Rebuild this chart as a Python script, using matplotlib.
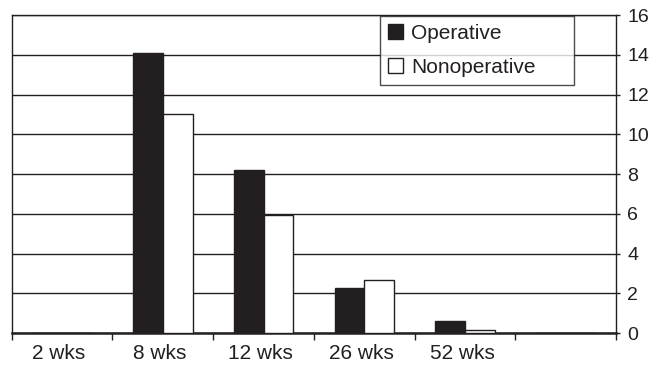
import matplotlib.pyplot as plt
import numpy as np

categories = ['2 wks', '8 wks', '12 wks', '26 wks', '52 wks', '']
operative = [0, 14.1, 8.2, 2.25, 0.6, 0]
nonoperative = [0, 11.05, 5.95, 2.67, 0.15, 0]

plt.rcParams['font.family'] = ['Liberation Sans', 'DejaVu Sans']
dark = '#231f20'

fig = plt.figure(figsize=(6.54, 3.67), dpi=100)
ax = fig.add_axes([0.018, 0.0926, 0.924, 0.866])

x = np.arange(len(categories))
w = 0.295
ax.bar(x - w / 2, operative, w, color=dark, edgecolor=dark, linewidth=1.0,
       label='Operative', zorder=3)
ax.bar(x + w / 2, nonoperative, w, color='white', edgecolor=dark, linewidth=1.0,
       label='Nonoperative', zorder=3)

ax.set_xlim(-0.5, len(categories) - 0.5)
ax.set_ylim(0, 16)

# y axis on the right
ax.yaxis.tick_right()
ax.set_yticks(range(0, 17, 2))
ax.yaxis.grid(True, color=dark, linewidth=1.0, zorder=0)
ax.set_axisbelow(True)
ax.tick_params(axis='y', direction='out', length=3, width=1, pad=5,
               labelsize=14, colors=dark)

# x ticks at category boundaries, labels at centres
ax.set_xticks(np.arange(-0.5, len(categories), 1.0))
ax.set_xticklabels([])
ax.set_xticks(x - 0.03, minor=True)
ax.set_xticklabels(categories, minor=True)
ax.tick_params(axis='x', which='major', direction='out', length=5, width=1, colors=dark)
ax.tick_params(axis='x', which='minor', length=0, pad=8, labelsize=15, colors=dark)

for s in ax.spines.values():
    s.set_color(dark)
    s.set_linewidth(1.0)
ax.spines['bottom'].set_linewidth(1.8)

leg = ax.legend(loc='upper left', bbox_to_anchor=(0.61, 0.0, 0.32, 0.998),
                mode='expand', frameon=True, fancybox=False, fontsize=15,
                handlelength=0.72, handleheight=0.72, handletextpad=0.38,
                borderpad=0.38, labelspacing=0.72, borderaxespad=0)
leg.get_frame().set_edgecolor(dark)
leg.get_frame().set_linewidth(1.0)
for t in leg.get_texts():
    t.set_color(dark)

fig.savefig('out.png', dpi=100)
